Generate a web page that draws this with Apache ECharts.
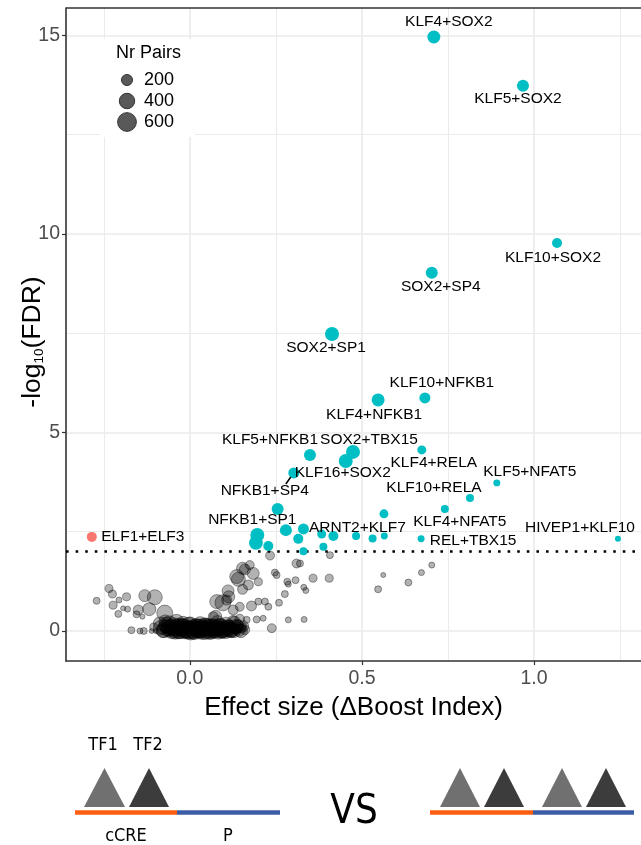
<!DOCTYPE html>
<html>
<head>
<meta charset="utf-8">
<script src="https://cdn.jsdelivr.net/npm/echarts@6/dist/echarts.min.js"></script>
<style>
  html, body { margin: 0; padding: 0; background: #fff; }
  #chart { width: 641px; height: 845px; }
</style>
</head>
<body>
<div id="chart"></div>
<script>
// ---- TF pairs with a significant positive effect (labelled ones first) ----
const sigPairs = ['KLF4+SOX2','KLF5+SOX2','KLF10+SOX2','SOX2+SP4','SOX2+SP1','KLF10+NFKB1','KLF4+NFKB1','KLF5+NFKB1','SOX2+TBX15','KLF16+SOX2',
  'NFKB1+SP4','KLF4+RELA','KLF5+NFAT5','KLF10+RELA','KLF4+NFAT5','REL+TBX15','HIVEP1+KLF10','ARNT2+KLF7','NFKB1+SP1',
  null,null,null,null,null,null,null,null,null,null,null,null,null];
const sigEffect = [0.709,0.968,1.067,0.703,0.413,0.683,0.547,0.349,0.474,0.453,
  0.302,0.674,0.892,0.814,0.741,0.672,1.244,0.417,0.196,
  0.255,0.192,0.228,0.279,0.330,0.315,0.330,0.383,0.388,0.483,0.531,0.565,0.564];
const sigFdr = [14.96,13.73,9.77,9.02,7.48,5.87,5.82,4.43,4.51,4.28,
  3.98,4.56,3.73,3.35,3.07,2.32,2.32,2.39,2.42,
  3.07,2.22,2.14,2.54,2.57,2.32,2.01,2.44,2.12,2.39,2.33,2.39,2.95];
const sigNrPairs = [282,239,163,239,329,199,282,239,329,329,
  199,130,76,102,102,76,55,163,329,
  239,329,163,239,199,163,102,130,102,102,102,76,130];

// ---- TF pairs with a significant negative effect ----
const negPairs = ['ELF1+ELF3'];
const negEffect = [-0.285];
const negFdr = [2.37];
const negNrPairs = [163];

// ---- non-significant TF pairs ----
const nsEffect = [
  -0.271,-0.235,-0.225,-0.223,-0.206,-0.184,-0.194,-0.181,-0.208,-0.155,-0.138,-0.131,-0.102,-0.118,-0.073,-0.170,-0.145,-0.134,-0.111,-0.099,-0.087,-0.039,-0.150,-0.105,
  -0.080,-0.070,-0.065,-0.060,-0.055,-0.050,-0.045,-0.040,-0.035,-0.030,-0.025,-0.020,-0.015,-0.010,-0.005,0.000,0.005,0.010,0.015,0.020,0.025,0.030,0.035,0.040,0.045,0.050,0.055,0.060,0.065,0.070,0.075,0.080,0.085,0.090,0.095,0.100,0.105,0.110,0.115,0.120,0.125,0.130,0.135,0.140,0.145,0.150,
  -0.075,-0.058,-0.042,-0.028,-0.012,0.003,0.018,0.033,0.047,0.062,0.078,0.092,0.108,0.122,0.138,
  -0.085,-0.078,-0.068,-0.062,-0.052,-0.047,-0.037,-0.032,-0.022,-0.017,-0.007,-0.002,0.008,0.013,0.023,0.028,0.038,0.043,0.053,0.058,
  0.068,0.073,0.083,0.088,0.098,0.103,0.113,0.118,0.128,0.133,0.143,0.148,0.155,0.160,-0.072,-0.020,0.030,0.080,0.125,0.000,
  0.048,0.068,0.075,0.078,0.096,0.107,0.111,0.113,0.126,0.136,0.136,0.141,0.145,0.153,0.155,0.160,0.165,0.170,0.174,0.179,0.184,0.194,0.199,0.199,0.213,0.218,0.228,0.233,0.238,0.247,0.252,0.259,0.276,0.283,0.286,0.286,0.307,0.310,0.320,0.331,0.332,0.337,0.358,0.405,0.407,0.547,0.562,0.635,0.673,0.703,0.153];
const nsFdr = [
  0.76,1.07,0.93,0.65,0.78,0.86,0.57,0.55,0.43,0.42,0.36,0.89,0.85,0.55,0.45,0.02,0.00,0.00,0.00,0.00,0.19,0.23,0.53,0.10,
  0.05,0.12,0.02,0.20,0.05,0.10,0.00,0.08,0.15,0.02,0.06,0.12,0.00,0.05,0.10,0.02,0.07,0.00,0.12,0.04,0.00,0.08,0.02,0.10,0.00,0.06,0.14,0.02,0.09,0.00,0.05,0.15,0.02,0.10,0.00,0.06,0.18,0.03,0.12,0.00,0.08,0.22,0.04,0.14,0.30,0.06,
  0.03,0.08,0.01,0.10,0.04,0.00,0.09,0.03,0.11,0.01,0.07,0.02,0.09,0.04,0.12,
  0.08,0.00,0.15,0.05,0.00,0.12,0.04,0.00,0.09,0.03,0.00,0.13,0.05,0.00,0.10,0.03,0.00,0.12,0.04,0.00,
  0.10,0.03,0.00,0.12,0.04,0.00,0.09,0.03,0.00,0.10,0.02,0.00,0.12,0.03,0.25,0.20,0.18,0.22,0.25,0.16,
  0.15,0.36,0.37,0.74,0.71,0.78,1.01,0.86,0.53,0.03,1.37,1.30,0.61,1.05,0.11,1.55,0.28,1.16,1.66,0.63,1.45,0.29,1.24,0.74,0.32,0.74,0.61,1.90,0.07,1.47,1.41,0.71,0.93,1.24,1.18,0.28,1.28,1.70,1.70,1.10,0.29,1.02,1.33,1.33,1.91,1.05,1.41,1.22,1.47,1.66,1.58];
const nsNrPairs = [
  76,102,102,102,55,102,37,55,76,76,37,239,380,282,434,76,55,76,37,37,282,380,163,102,
  180,300,200,350,250,400,300,450,300,500,350,400,300,450,250,500,300,400,350,450,300,500,350,300,450,400,300,350,450,300,400,250,350,450,300,400,300,350,250,300,200,250,180,200,150,130,
  400,450,500,450,500,550,500,450,500,450,400,450,400,350,300,
  350,300,400,450,400,500,450,400,500,550,450,500,550,500,450,550,500,450,550,500,
  450,500,450,400,450,400,350,400,300,350,250,300,200,150,250,300,350,300,200,400,
  239,163,239,329,434,163,239,239,163,76,329,329,130,163,76,199,76,163,130,163,239,76,102,76,55,76,76,130,130,76,76,76,76,76,55,55,76,130,76,55,55,55,102,102,76,76,37,76,55,55,239];

// ---- axes, reference line and legend keys ----
const xTicks = [0, 0.5, 1.0];
const yTicks = [0, 5, 10, 15];
const xGrid = [-0.25, 0, 0.25, 0.5, 0.75, 1.0, 1.25];
const yGrid = [0, 2.5, 5, 7.5, 10, 12.5, 15];
const fdrCutoff = 2;
const legendPairs = [200, 400, 600];
const xRange = [-0.36, 1.311];
const yRange = [-0.756, 15.69];

// label placement (pixel offsets from the point centre)
const labelOffsets = {
  'KLF4+SOX2': [15, -15], 'KLF5+SOX2': [-5, 13], 'KLF10+SOX2': [-4, 15], 'SOX2+SP4': [9, 14],
  'SOX2+SP1': [-6, 14], 'KLF10+NFKB1': [17, -15], 'KLF4+NFKB1': [-4, 15], 'KLF5+NFKB1': [-40, -15],
  'SOX2+TBX15': [16, -12], 'KLF16+SOX2': [-3, 12], 'NFKB1+SP4': [-29, 18], 'KLF4+RELA': [12, 13],
  'KLF5+NFAT5': [33, -11], 'KLF10+RELA': [-36, -10], 'KLF4+NFAT5': [15, 13], 'REL+TBX15': [52, 2],
  'HIVEP1+KLF10': [-38, -11], 'ARNT2+KLF7': [24, -8], 'NFKB1+SP1': [-5, -15], 'ELF1+ELF3': [51, 0]
};

const FONT = "'Liberation Sans', Arial, Helvetica, sans-serif";
const NARROW = "'Liberation Sans Narrow', 'DejaVu Sans Condensed', sans-serif";

// point diameter (px) from number of pairs, area-like scaling
function dotSize(n) { return 0.5 + 0.744 * Math.sqrt(n); }

function buildData(xs, ys, ns, names) {
  return xs.map((x, i) => {
    const name = names ? names[i] : null;
    const item = { value: [x, ys[i], ns[i]] };
    if (name) {
      item.name = name;
      item.label = { show: true, offset: labelOffsets[name] || [0, 0] };
    }
    return item;
  });
}

const chart = echarts.init(document.getElementById('chart'), null, { renderer: 'canvas' });

const labelStyle = {
  show: false, position: 'inside', color: '#000', fontSize: 15.5, fontFamily: FONT,
  textBorderWidth: 0, textBorderColor: 'transparent', textShadowBlur: 0,
  formatter: p => p.name
};

const gridLines = [];
xGrid.forEach(v => gridLines.push({ xAxis: v, lineStyle: { color: '#ebebeb', width: (v * 2) % 1 === 0 ? 1.7 : 1.0, type: 'solid' } }));
yGrid.forEach(v => gridLines.push({ yAxis: v, lineStyle: { color: '#ebebeb', width: v % 5 === 0 ? 1.7 : 1.0, type: 'solid' } }));
// panel frame along the top edge
gridLines.push({ yAxis: yRange[1], lineStyle: { color: '#333', width: 1.6, type: 'solid' } });

const option = {
  animation: false,
  backgroundColor: '#fff',
  grid: { left: 66, top: 8, right: 0, bottom: 184, show: false },
  xAxis: {
    type: 'value', min: xRange[0], max: xRange[1],
    axisLine: { show: true, onZero: false, lineStyle: { color: '#333', width: 1.6 } },
    splitLine: { show: false },
    axisTick: { show: true, customValues: xTicks, length: 4, lineStyle: { color: '#333', width: 1.2 } },
    axisLabel: { customValues: xTicks, color: '#4d4d4d', fontSize: 19.5, fontFamily: FONT, margin: 8, formatter: v => v.toFixed(1) },
    name: 'Effect size (\u0394Boost Index)', nameLocation: 'middle', nameGap: 34, nameMoveOverlap: false,
    nameTextStyle: { color: '#000', fontSize: 26, fontFamily: FONT }
  },
  yAxis: {
    type: 'value', min: yRange[0], max: yRange[1],
    axisLine: { show: true, onZero: false, lineStyle: { color: '#333', width: 1.6 } },
    splitLine: { show: false },
    axisTick: { show: true, customValues: yTicks, length: 4, lineStyle: { color: '#333', width: 1.2 } },
    axisLabel: { customValues: yTicks, color: '#4d4d4d', fontSize: 19.5, fontFamily: FONT, margin: 6, formatter: v => String(v) }
  },
  series: [
    {
      // panel grid lines (drawn beneath the points)
      type: 'scatter', data: [], z: 0, silent: true,
      markLine: {
        silent: true, symbol: 'none', label: { show: false }, animation: false, z: 0,
        data: gridLines
      }
    },
    {
      name: 'ns', type: 'scatter', z: 2,
      data: buildData(nsEffect, nsFdr, nsNrPairs, null),
      symbolSize: v => dotSize(v[2]),
      itemStyle: { color: 'rgba(0,0,0,0.30)', borderColor: 'rgba(0,0,0,0.38)', borderWidth: 1, opacity: 1 },
      label: labelStyle
    },
    {
      // FDR cut-off
      type: 'scatter', data: [], z: 3, silent: true,
      markLine: {
        silent: true, symbol: 'none', label: { show: false }, animation: false, z: 3,
        data: [{ yAxis: fdrCutoff, lineStyle: { color: '#000', width: 2.6, type: [2.6, 7], cap: 'butt' } }]
      }
    },
    {
      name: 'negative', type: 'scatter', z: 4,
      data: buildData(negEffect, negFdr, negNrPairs, negPairs),
      symbolSize: v => dotSize(v[2]),
      itemStyle: { color: '#F8766D', opacity: 1 },
      label: labelStyle
    },
    {
      name: 'positive', type: 'scatter', z: 4,
      data: buildData(sigEffect, sigFdr, sigNrPairs, sigPairs),
      symbolSize: v => dotSize(v[2]),
      itemStyle: { color: '#00BFC4', opacity: 1 },
      label: labelStyle
    }
  ]
};

chart.setOption(option);

// y-axis title with subscript
const extras = [
  {
    type: 'text', x: 29, y: 342, rotation: Math.PI / 2, z: 40,
    style: {
      text: '{a|-log}{b|10}{a|(FDR)}', align: 'center', verticalAlign: 'middle',
      textAlign: 'center', textVerticalAlign: 'middle',
      rich: {
        a: { fontSize: 26.5, fontFamily: FONT, fill: '#000', color: '#000', lineHeight: 34, verticalAlign: 'bottom' },
        b: { fontSize: 13.5, fontFamily: FONT, fill: '#000', color: '#000', lineHeight: 13, verticalAlign: 'bottom' }
      }
    }
  }
];

// size legend, in-panel
extras.push({ type: 'rect', shape: { x: 100, y: 39, width: 95, height: 98 }, style: { fill: '#fff' }, z: 50 });
extras.push({ type: 'text', x: 116, y: 53, z: 51, style: { text: 'Nr Pairs', fontSize: 18, fontFamily: FONT, fill: '#000', verticalAlign: 'middle', textVerticalAlign: 'middle' } });
legendPairs.forEach((n, i) => {
  const cy = 80 + i * 21;
  extras.push({ type: 'circle', z: 51, shape: { cx: 127, cy: cy, r: dotSize(n) / 2 }, style: { fill: '#595959', stroke: '#333', lineWidth: 1 } });
  extras.push({ type: 'text', x: 144, y: cy, z: 51, style: { text: String(n), fontSize: 18, fontFamily: FONT, fill: '#000', verticalAlign: 'middle', textVerticalAlign: 'middle' } });
});

// connector from the NFKB1+SP4 label to its point
const iSp4 = sigPairs.indexOf('NFKB1+SP4');
const pSp4 = chart.convertToPixel({ gridIndex: 0 }, [sigEffect[iSp4], sigFdr[iSp4]]);
extras.push({ type: 'line', z: 60, shape: { x1: pSp4[0] - 3, y1: pSp4[1] + 4, x2: pSp4[0] - 8, y2: pSp4[1] + 11 }, style: { stroke: '#000', lineWidth: 1.5 } });

// schematic below the plot: TF pair in cCRE vs both cCRE and promoter
function tri(x0, x1, fill) {
  return { type: 'polygon', shape: { points: [[x0, 807], [(x0 + x1) / 2, 768], [x1, 807]] }, style: { fill: fill } };
}
function seg(x1, x2, color) {
  return { type: 'line', shape: { x1: x1, y1: 812.5, x2: x2, y2: 812.5 }, style: { stroke: color, lineWidth: 4.5 } };
}
function txt(s, x, y, size) {
  return { type: 'text', x: x, y: y, style: { text: s, fontSize: size, fontFamily: NARROW, fill: '#000', align: 'center', verticalAlign: 'middle', textAlign: 'center', textVerticalAlign: 'middle' } };
}
const LIGHT = '#707070', DARK = '#3c3c3c', ORANGE = '#FD5E11', BLUE = '#3B5DA5';
const schematic = [
  tri(84, 125, LIGHT), tri(129, 169, DARK),
  seg(75, 177, ORANGE), seg(177, 280, BLUE),
  txt('TF1', 103, 745, 18), txt('TF2', 148, 745, 18),
  txt('cCRE', 126, 836, 18), txt('P', 228, 836, 18),
  txt('VS', 354, 813, 40),
  tri(440, 480, LIGHT), tri(484, 524, DARK), tri(542, 582, LIGHT), tri(586, 626, DARK),
  seg(430, 533, ORANGE), seg(533, 634, BLUE)
];

chart.setOption({ graphic: extras.concat(schematic) });
</script>
</body>
</html>
